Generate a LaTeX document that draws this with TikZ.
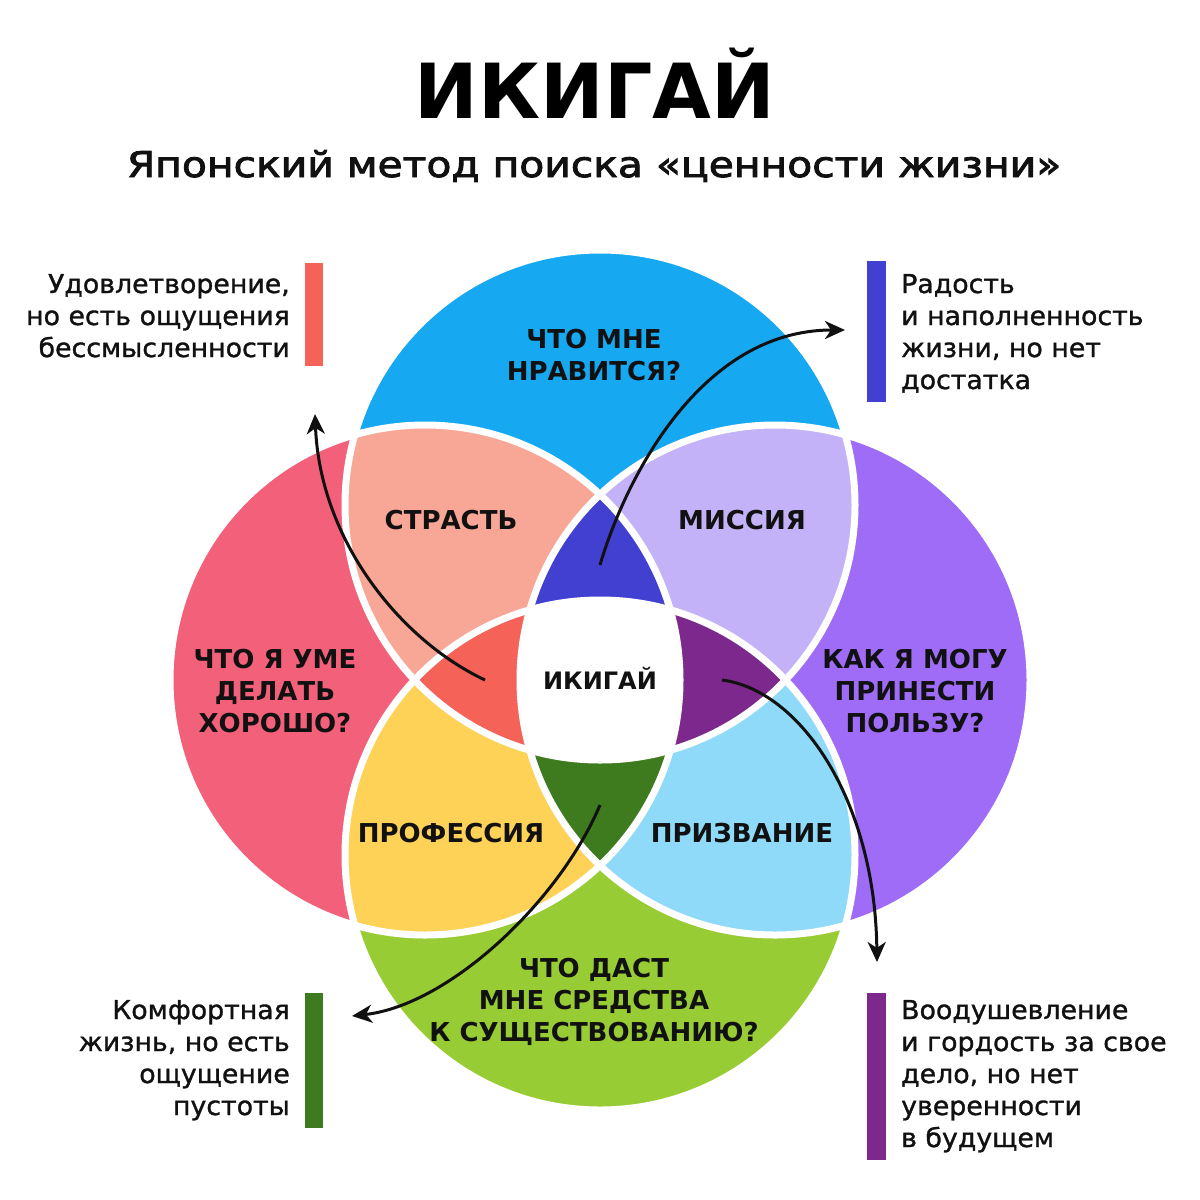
\documentclass[tikz,border=0pt]{standalone}
\usepackage{fontspec}
\setmainfont{DejaVu Sans}
\newfontfamily\semib[FakeBold=2.5,FakeStretch=1.15]{DejaVu Sans}
\newfontfamily\medf[FakeBold=1.2,FakeStretch=1.03]{DejaVu Sans}
\usetikzlibrary{arrows.meta}
\definecolor{cT}{RGB}{22,168,240}
\definecolor{cL}{RGB}{243,96,122}
\definecolor{cR}{RGB}{158,108,247}
\definecolor{cB}{RGB}{152,204,52}
\definecolor{cTL}{RGB}{248,166,150}
\definecolor{cTR}{RGB}{196,178,248}
\definecolor{cLB}{RGB}{253,210,86}
\definecolor{cRB}{RGB}{142,218,248}
\definecolor{cTLR}{RGB}{66,64,208}
\definecolor{cTLB}{RGB}{245,98,88}
\definecolor{cTRB}{RGB}{124,40,140}
\definecolor{cBLR}{RGB}{62,122,30}
\definecolor{ink}{RGB}{17,17,17}
\newcommand\mytab[2]{\begin{tabular}[t]{@{}#1@{}}#2\end{tabular}}
\begin{document}
\begin{tikzpicture}[x=1pt,y=-1pt,
  lab/.style={font=\bfseries\fontsize{26}{32}\selectfont, text=ink, anchor=base, inner sep=0pt},
  txt/.style={font=\medf\fontsize{26}{32}\selectfont, text=ink, inner sep=0pt},
  arr/.style={draw=ink, line width=3pt, -{Stealth[length=20pt,width=18pt,inset=6pt]}},
  rim/.style={white, line width=7pt}]
\useasboundingbox[fill=white] (0,0) rectangle (1200,1200);
\def\rr{255pt}
\coordinate (T) at (600,505);
\coordinate (B) at (600,855);
\coordinate (L) at (425,680);
\coordinate (R) at (775,680);
% single circles
\fill[cT] (T) circle[radius=\rr];
\fill[cL] (L) circle[radius=\rr];
\fill[cR] (R) circle[radius=\rr];
\fill[cB] (B) circle[radius=\rr];
% pairs
\begin{scope}\clip (T) circle[radius=\rr]; \fill[cTL] (L) circle[radius=\rr];\end{scope}
\begin{scope}\clip (T) circle[radius=\rr]; \fill[cTR] (R) circle[radius=\rr];\end{scope}
\begin{scope}\clip (B) circle[radius=\rr]; \fill[cLB] (L) circle[radius=\rr];\end{scope}
\begin{scope}\clip (B) circle[radius=\rr]; \fill[cRB] (R) circle[radius=\rr];\end{scope}
% triples
\begin{scope}\clip (T) circle[radius=\rr]; \clip (L) circle[radius=\rr]; \fill[cTLR] (R) circle[radius=\rr];\end{scope}
\begin{scope}\clip (T) circle[radius=\rr]; \clip (L) circle[radius=\rr]; \fill[cTLB] (B) circle[radius=\rr];\end{scope}
\begin{scope}\clip (T) circle[radius=\rr]; \clip (R) circle[radius=\rr]; \fill[cTRB] (B) circle[radius=\rr];\end{scope}
\begin{scope}\clip (B) circle[radius=\rr]; \clip (L) circle[radius=\rr]; \fill[cBLR] (R) circle[radius=\rr];\end{scope}
% all four
\begin{scope}\clip (T) circle[radius=\rr]; \clip (L) circle[radius=\rr]; \clip (R) circle[radius=\rr]; \fill[white] (B) circle[radius=\rr];\end{scope}
% white rims
\draw[rim] (T) circle[radius=\rr];
\draw[rim] (L) circle[radius=\rr];
\draw[rim] (R) circle[radius=\rr];
\draw[rim] (B) circle[radius=\rr];

% title
\node[font=\bfseries\fontsize{76}{76}\selectfont, text=black, anchor=base, inner sep=0pt] (title) at (595,118) {ИКИГАЙ};
\node[font=\semib\fontsize{35.5}{36}\selectfont, text=ink, anchor=base, inner sep=0pt] (subtitle) at (594,177) {Японский метод поиска «ценности жизни»};

% circle labels
\node[lab] (qT) at (594,348) {\mytab{c}{ЧТО МНЕ\\НРАВИТСЯ?}};
\node[lab] (qL) at (275,668) {\mytab{c}{ЧТО Я УМЕ\\ДЕЛАТЬ\\ХОРОШО?}};
\node[lab] (qR) at (915,668) {\mytab{c}{КАК Я МОГУ\\ПРИНЕСТИ\\ПОЛЬЗУ?}};
\node[lab] (qB) at (594,977) {\mytab{c}{ЧТО ДАСТ\\МНЕ СРЕДСТВА\\К СУЩЕСТВОВАНИЮ?}};
\node[lab] (passion) at (451,529) {СТРАСТЬ};
\node[lab] (mission) at (742,529) {МИССИЯ};
\node[lab] (profession) at (451,842) {ПРОФЕССИЯ};
\node[lab] (vocation) at (742,842) {ПРИЗВАНИЕ};
\node[lab, font=\bfseries\fontsize{24}{30}\selectfont] (ikigai) at (600,689) {ИКИГАЙ};

% side bars
\fill[cTLB] (305,263) rectangle (323,366);
\fill[cTLR] (867,261) rectangle (886,402);
\fill[cBLR] (305,993) rectangle (323,1128);
\fill[cTRB] (867,993) rectangle (886,1160);

% side texts
\node[txt, anchor=base east] (tTL) at (290,293) {\mytab{r}{Удовлетворение,\\но есть ощущения\\бессмысленности}};
\node[txt, anchor=base west] (tTR) at (901,293) {\mytab{l}{Радость\\и наполненность\\жизни, но нет\\достатка}};
\node[txt, anchor=base east] (tBL) at (290,1019) {\mytab{r}{Комфортная\\жизнь, но есть\\ощущение\\пустоты}};
\node[txt, anchor=base west] (tBR) at (901,1019) {\mytab{l}{Воодушевление\\и гордость за свое\\дело, но нет\\уверенности\\в будущем}};

% arrows
\coordinate (s1) at (485,680);
\coordinate (e1) at (315,414);
\coordinate (s2) at (600,565);
\coordinate (e2) at (845,330);
\coordinate (s3) at (722,680);
\coordinate (e3) at (877,962);
\coordinate (s4) at (600,805);
\coordinate (e4) at (352,1016);
\draw[arr] (s1) .. controls (400,640) and (320,540) .. (e1);
\draw[arr] (s2) .. controls (625,480) and (700,330) .. (e2);
\draw[arr] (s3) .. controls (800,690) and (875,800) .. (e3);
\draw[arr] (s4) .. controls (560,900) and (450,1005) .. (e4);
\end{tikzpicture}
\end{document}
